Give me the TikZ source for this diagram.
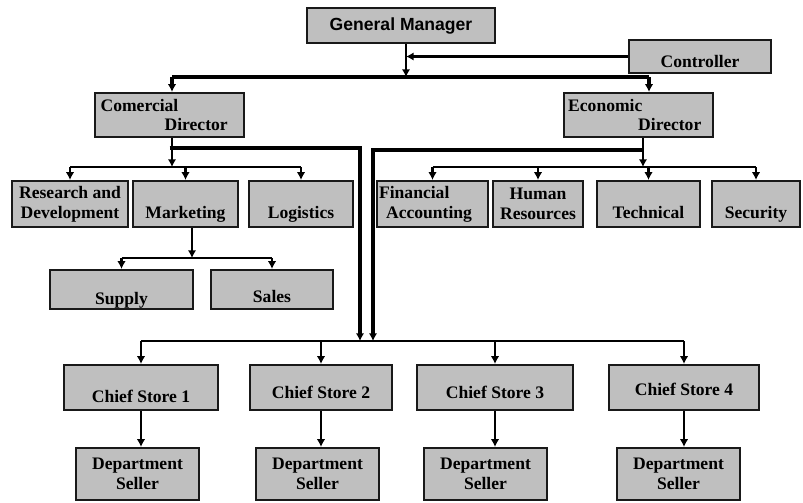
\documentclass[tikz,border=0pt]{standalone}
\usepackage{fontspec}
\setmainfont{Liberation Serif}
\newfontfamily\headfont{Liberation Sans}
\usetikzlibrary{arrows.meta}

\begin{document}
\begin{tikzpicture}[x=0.025cm, y=-0.025cm,
    box/.style 2 args={draw=black!90, line width=1.5pt, fill=black!25,
        minimum width=#1*0.025cm, minimum height=#2*0.025cm, inner sep=2pt,
        font=\fontsize{12.5}{14}\selectfont\bfseries},
    low/.style={text height=#1, text depth=0pt},
    conn/.style={line width=1.5pt},
    heavy/.style={line width=2.8pt},
    tip/.style={-{Latex[length=5.5pt,width=6pt]}}]

    % Fix the size of the page
    \useasboundingbox (0,0) rectangle (803,502);

    % Draw the top of the chart
    \node[box={188}{35}, font=\headfont\fontsize{12.5}{14}\selectfont\bfseries] (gm) at (401,25.5) {General Manager};
    \node[box={142}{33}, low=16pt] (ctrl) at (700,56.5) {Controller};

    % Draw the two directors
    \node[box={149}{44}, align=left, text width=98pt, inner xsep=3.5pt] (cd) at (169.5,115) {Comercial\\\hspace*{1.6cm}Director};
    \node[box={149}{44}, align=left, text width=100pt, inner xsep=2.5pt] (ed) at (638.5,115) {Economic\\\hspace*{1.75cm}Director};

    % Draw the departments under the commercial director
    \node[box={116}{46}, align=center] (rd) at (70,204) {Research and\\Development};
    \node[box={105}{46}, low=21pt] (mkt) at (185.5,204) {Marketing};
    \node[box={104}{46}, low=21pt] (log) at (301,204) {Logistics};

    % Draw the departments under the economic director
    \node[box={111}{46}, align=left, text width=76pt, inner xsep=1pt] (fa) at (432.5,204) {Financial\\\hspace*{5pt}Accounting};
    \node[box={90}{46}, align=center] (hr) at (538,204) {Human\\Resources};
    \node[box={103}{46}, low=20pt] (tech) at (648.5,204) {Technical};
    \node[box={88}{46}, low=20pt] (sec) at (756,204) {Security};

    % Draw the boxes under marketing
    \node[box={143}{39}, low=21pt] (sup) at (121.5,289.5) {Supply};
    \node[box={122}{39}, low=18pt] (sal) at (272,289.5) {Sales};

    % Draw the chief stores
    \node[box={154}{45}, low=22pt] (cs1) at (141,387.5) {Chief Store 1};
    \node[box={142}{45}, low=16pt] (cs2) at (321,387.5) {Chief Store 2};
    \node[box={156}{45}, low=16pt] (cs3) at (495,387.5) {Chief Store 3};
    \node[box={150}{45}, low=12pt] (cs4) at (684,387.5) {Chief Store 4};

    % Draw the department sellers
    \node[box={123}{52}, align=center] (ds1) at (137.5,474) {Department\\Seller};
    \node[box={123}{52}, align=center] (ds2) at (317.5,474) {Department\\Seller};
    \node[box={123}{52}, align=center] (ds3) at (485.5,474) {Department\\Seller};
    \node[box={123}{52}, align=center] (ds4) at (678.5,474) {Department\\Seller};

    % Points where the lines meet
    \coordinate (gmbus) at (406,77);
    \coordinate (cdtop) at (172,77);
    \coordinate (edtop) at (649,77);
    \coordinate (cdbus) at (172,167);
    \coordinate (cdturn) at (360,148);
    \coordinate (edbus) at (643,167);
    \coordinate (edturn) at (373,150);
    \coordinate (mktbus) at (192,258);
    \coordinate (storebus) at (360,341);

    % Manager and controller down to the directors
    \draw[line width=2pt, tip] (gm.south -| gmbus) -- (gmbus);
    \draw[line width=2pt, tip] (ctrl.west) -- (ctrl.west -| gmbus);
    \draw[heavy] (cdtop) -- (edtop);
    \draw[heavy, tip] (cdtop) -- (cdtop |- cd.north);
    \draw[heavy, tip] (edtop) -- (edtop |- ed.north);

    % Commercial director to its departments
    \draw[conn, tip] (cd.south -| cdbus) -- (cdbus);
    \draw[conn] (rd.north |- cdbus) -- (log.north |- cdbus);
    \draw[conn, tip] (rd.north |- cdbus) -- (rd.north);
    \draw[conn, tip] (mkt.north |- cdbus) -- (mkt.north);
    \draw[conn, tip] (log.north |- cdbus) -- (log.north);

    % Marketing to supply and sales
    \draw[conn, tip] (mkt.south -| mktbus) -- (mktbus);
    \draw[conn] (sup.north |- mktbus) -- (sal.north |- mktbus);
    \draw[conn, tip] (sup.north |- mktbus) -- (sup.north);
    \draw[conn, tip] (sal.north |- mktbus) -- (sal.north);

    % Economic director to its departments
    \draw[conn, tip] (ed.south -| edbus) -- (edbus);
    \draw[conn] (fa.north |- edbus) -- (sec.north |- edbus);
    \draw[conn, tip] (fa.north |- edbus) -- (fa.north);
    \draw[conn, tip] (hr.north |- edbus) -- (hr.north);
    \draw[conn, tip] (tech.north |- edbus) -- (tech.north);
    \draw[conn, tip] (sec.north |- edbus) -- (sec.north);

    % Both directors down to the stores
    \draw[heavy, tip] (cd.south |- cdturn) -- (cdturn) -- (cdturn |- storebus);
    \draw[heavy, tip] (edbus |- edturn) -- (edturn) -- (edturn |- storebus);
    \draw[conn] (cs1.north |- storebus) -- (cs4.north |- storebus);
    \draw[conn, tip] (cs1.north |- storebus) -- (cs1.north);
    \draw[conn, tip] (cs2.north |- storebus) -- (cs2.north);
    \draw[conn, tip] (cs3.north |- storebus) -- (cs3.north);
    \draw[conn, tip] (cs4.north |- storebus) -- (cs4.north);

    % Stores to their sellers
    \draw[conn, tip] (cs1.south) -- (cs1.south |- ds1.north);
    \draw[conn, tip] (cs2.south) -- (cs2.south |- ds2.north);
    \draw[conn, tip] (cs3.south) -- (cs3.south |- ds3.north);
    \draw[conn, tip] (cs4.south) -- (cs4.south |- ds4.north);

\end{tikzpicture}
\end{document}
